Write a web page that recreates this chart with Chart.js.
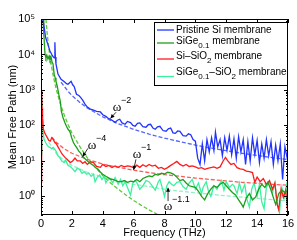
<!DOCTYPE html>
<html><head><meta charset="utf-8">
<script src="https://cdn.jsdelivr.net/npm/chart.js@4"></script>
<style>html,body{margin:0;padding:0;background:#fff}</style>
</head><body>
<canvas id="c" width="297" height="240"></canvas>
<script>
// ---- data (frequency in THz, mean free path in nm) ----
const xTicks = [0,2,4,6,8,10,12,14,16];
const yTicks = [1,10,100,1000,10000,100000];
const yTickLabels = ['10⁰','10¹','10²','10³','10⁴','10⁵'];
const seriesNames = ['Pristine Si membrane','SiGe0.1 membrane','Si–SiO2 membrane','SiGe0.1–SiO2 membrane'];

const pristineF = [0.12,0.2,0.3,0.45,0.58,0.7,0.8,0.86,0.9,0.93,0.97,1.1,1.3,1.45,1.55,1.65,1.75,1.85,1.95,2.05,2.15,2.3,2.45,2.55,2.7,2.85,3.0,3.2,3.4,3.6,3.85,4.0,4.2,4.35,4.5,4.65,4.8,4.95,5.1,5.25,5.45,5.6,5.8,5.95,6.1,6.25,6.4,6.6,6.8,6.95,7.1,7.25,7.4,7.55,7.7,7.9,8.1,8.25,8.4,8.55,8.7,8.85,9.0,9.2,9.4,9.55,9.7,9.85,10.0,10.15,10.3,10.45,10.6,10.75,10.9,11.05,11.2,11.3,11.45,11.6,11.75,11.9,12.05,12.2,12.35,12.5,12.65,12.8,12.95,13.1,13.25,13.4,13.55,13.7,13.85,14.0,14.15,14.3,14.45,14.6,14.75,14.9,15.05,15.2,15.35,15.5,15.65,15.8,15.95,16.0];
const pristineV = [100000,60000,30000,19000,12500,10000,8500,8000,22000,8500,5400,2800,2000,1800,1650,1500,1450,1600,1750,1400,1250,760,700,630,520,400,330,290,270,250,240,200,180,160,150,135,122,140,150,118,108,130,120,100,95,115,118,92,89,105,108,85,78,92,95,72,69,80,85,62,60,70,68,52,50,58,55,40,36,12,8,30,10,40,18,45,20,65,25,40,14,45,20,50,15,42,12,48,18,40,8,35,10,45,15,38,9,30,12,40,14,35,8,28,10,30,3,25,12,18];

const sigeF = [0.13,0.18,0.26,0.32,0.38,0.45,0.52,0.58,0.65,0.72,0.78,0.85,0.92,0.97,1.05,1.15,1.25,1.32,1.42,1.55,1.65,1.75,1.85,1.92,1.98,2.1,2.2,2.3,2.45,2.55,2.7,2.85,3.05,3.2,3.4,3.55,3.7,3.85,4.0,4.2,4.35,4.5,4.7,4.85,5.0,5.2,5.4,5.6,5.8,6.0,6.2,6.4,6.6,6.8,7.0,7.2,7.4,7.6,7.8,8.0,8.2,8.4,8.6,8.8,9.0,9.2,9.4,9.6,9.8,10.0,10.2,10.4,10.6,10.8,11.0,11.2,11.4,11.6,11.8,12.0,12.2,12.4,12.6,12.8,13.0,13.1,13.3,13.5,13.7,13.9,14.1,14.3,14.5,14.7,14.9,15.1,15.2,15.4,15.6,15.8,16.0];
const sigeV = [100000,40000,10000,8000,9500,7500,9000,7000,8500,6000,5400,2800,2200,1750,1300,760,480,250,170,120,95,78,70,58,46,33,28,24,19,17,13.5,11.5,9.7,8.5,7.5,6.4,5.8,4.8,4.2,3.7,3.4,3.1,3.0,2.8,2.6,2.6,2.8,2.5,2.7,2.6,3.0,2.6,3.2,3.5,3.8,3.6,4.2,4.0,4.5,4.3,4.8,4.6,4.2,3.5,2.8,3.0,2.4,2.0,1.9,1.8,1.4,1.0,0.8,1.2,1.6,2.0,1.8,2.2,2.5,2.0,1.6,1.3,1.1,0.8,0.6,0.5,0.9,1.2,0.8,0.95,1.6,2.2,1.8,2.5,1.5,0.8,0.6,1.2,1.5,1.3,1.5];

const sio2F = [0.02,0.04,0.07,0.1,0.15,0.25,0.4,0.5,0.6,0.7,0.8,0.9,1.0,1.1,1.2,1.35,1.55,1.7,1.9,2.05,2.2,2.35,2.55,2.7,2.85,3.0,3.2,3.4,3.6,3.85,4.0,4.2,4.4,4.6,4.8,5.0,5.2,5.4,5.6,5.8,6.0,6.2,6.4,6.6,6.8,7.0,7.2,7.4,7.6,7.8,8.0,8.2,8.4,8.6,8.8,9.0,9.2,9.4,9.6,9.8,10.0,10.2,10.4,10.6,10.8,11.0,11.2,11.4,11.6,11.8,11.95,12.1,12.3,12.5,12.7,12.9,13.1,13.3,13.5,13.7,13.85,14.0,14.2,14.4,14.6,14.8,15.0,15.15,15.3,15.4,15.55,15.7,15.85,16.0];
const sio2V = [2.5,1000,300,150,80,60,46,38,36,45,40,33,30,25,21,16,12.6,11,9,10,12,10,10,8.5,9.5,8,9.5,9,7,6.6,8,7,7.5,6.5,7.2,6.6,7.5,6.8,7.3,7,6.4,7.6,6.6,7.8,7,8,7.2,7.6,6.2,6.6,5.8,6.5,7.5,8.5,9.7,8,7.2,8,7,7.3,6.8,6.2,6.5,5.8,6.2,6.5,6.8,6.2,6.8,10,12.6,10,8,8.5,6.5,6,5.8,5.2,5,4.7,2.5,3.5,2.6,3.2,2.2,2.8,1.6,2.4,0.6,0.43,1.6,0.94,1.5,0.3];

const sigeSio2F = [0.03,0.05,0.08,0.12,0.15,0.2,0.3,0.4,0.5,0.6,0.7,0.8,0.9,1.0,1.1,1.2,1.35,1.5,1.6,1.75,1.9,2.05,2.2,2.35,2.5,2.65,2.8,2.95,3.1,3.25,3.4,3.5,3.65,3.8,3.95,4.1,4.2,4.35,4.5,4.65,4.8,5.0,5.15,5.3,5.45,5.6,5.8,5.95,6.1,6.2,6.4,6.6,6.8,7.0,7.2,7.4,7.6,7.7,7.85,8.0,8.15,8.3,8.45,8.6,8.8,9.0,9.2,9.4,9.6,9.8,10.0,10.2,10.4,10.5,10.7,10.85,11.0,11.2,11.4,11.5,11.7,11.85,12.0,12.2,12.4,12.5,12.7,12.85,13.0,13.2,13.35,13.5,13.65,13.8,14.0,14.15,14.3,14.45,14.6,14.8,15.0,15.15,15.3,15.45,15.6,15.75,15.9,16.0];
const sigeSio2V = [15,600,150,70,60,40,33,28,25,24,22,24,21,18,14,12.6,10,9,10.5,7.5,7,6,5,6.2,5.8,4.5,5,4.2,4.5,3.7,4.2,2.6,3.5,4,3,3.6,2.4,3.2,3,2.4,3.4,2.2,3,2.0,2.6,1.8,1.1,2.4,2.8,2.5,1.6,2.0,2.8,2.6,2.0,1.5,2.6,3.0,1.8,1.0,2.0,2.6,2.2,2.0,2.5,2.6,1.9,1.6,2.4,3.0,1.6,2.4,1.2,1.8,2.6,1.4,1.0,2.0,1.6,2.0,2.8,1.5,2.6,1.8,2.2,2.0,1.2,2.4,1.3,2.2,0.8,0.5,1.6,2.4,1.0,2.2,0.7,0.45,1.8,2.6,1.3,2.4,0.6,0.35,1.8,0.9,2.0,0.3];

// fitted power-law guide lines
const fitPristineF = [1.3,1.75,2,2.5,3,4,5,6,7,8,9,10,11,12,13,14,15,16];
const fitPristineV = [1650,920,700,450,310,175,112,78,57,44,35,28,23,19.5,16.5,14.3,12.4,11];
const fitSigeF = [0.32,0.4,0.5,0.6,0.7,0.8,1.0,1.25,1.5,1.75,2.0,2.5,3.0,3.5,4.0,4.5,5.0,5.5,6.0,6.5,7.0,7.6];
const fitSigeV = [100000,39000,16000,7700,4200,2400,1000,410,200,107,62,26,12.3,6.7,3.9,2.4,1.6,1.1,0.77,0.56,0.42,0.3];
const fitSio2F = [0.7,1,1.5,2,3,4,5,6,7,8,9,10,11,12,13,14,15,16];
const fitSio2V = [47,33,22,16.5,11,8.2,6.6,5.5,4.7,4.1,3.7,3.3,3.0,2.75,2.5,2.35,2.2,2.06];
const fitSigeSio2F = [0.5,1,1.5,2,3,4,5,6,7,8,9,10,12,14,16];
const fitSigeSio2V = [34,16,10.3,7.5,4.8,3.5,2.7,2.2,1.9,1.6,1.41,1.27,1.04,0.88,0.75];

const colors = ['#2233ff','#1e9e1e','#ff1a1a','#3cf0a0'];
const fitColors = ['#5566ff','#5cc83c','#ff5a5a','#8ff0c4'];

function pts(f,v){return f.map((x,i)=>({x:x,y:v[i]}));}

const datasets = [
  {data:pts(pristineF,pristineV),borderColor:colors[0]},
  {data:pts(sigeF,sigeV),borderColor:colors[1]},
  {data:pts(sio2F,sio2V),borderColor:colors[2]},
  {data:pts(sigeSio2F,sigeSio2V),borderColor:colors[3]},
  {data:pts(fitPristineF,fitPristineV),borderColor:fitColors[0],borderDash:[4,2]},
  {data:pts(fitSigeF,fitSigeV),borderColor:fitColors[1],borderDash:[4,2]},
  {data:pts(fitSio2F,fitSio2V),borderColor:fitColors[2],borderDash:[4,2]},
  {data:pts(fitSigeSio2F,fitSigeSio2V),borderColor:fitColors[3],borderDash:[4,2]}
].map(d=>Object.assign({showLine:true,pointRadius:0,borderWidth:1.3,fill:false,tension:0},d));

// annotation anchors in data units
const annotations = [
  {sup:'−2', f:4.92, v:327, from:[4.86,236], to:[4.50,158]},
  {sup:'−4', f:3.30, v:27.6, from:[3.04,22.7], to:[2.70,13.2]},
  {sup:'−1', f:6.22, v:15.4, from:[6.15,11.1], to:[6.00,5.6]},
  {sup:'−1.1', f:8.23, v:0.52, from:[8.23,0.74], to:[8.23,1.75]}
];

const SANS = '"Liberation Sans", Arial, Helvetica, sans-serif';

const decor = {
  id:'decor',
  afterDatasetsDraw(chart){
    const ctx = chart.ctx, a = chart.chartArea;
    const xs = chart.scales.x, ys = chart.scales.y;
    ctx.save();
    // box
    ctx.strokeStyle = '#000'; ctx.lineWidth = 1;
    ctx.strokeRect(Math.round(a.left)+0.5, Math.round(a.top)+0.5, Math.round(a.right-a.left)-1, Math.round(a.bottom-a.top)-1);
    // ticks
    ctx.beginPath();
    xTicks.forEach(t=>{
      const x = Math.round(xs.getPixelForValue(t))+0.5;
      ctx.moveTo(x,a.bottom); ctx.lineTo(x,a.bottom-4);
      ctx.moveTo(x,a.top); ctx.lineTo(x,a.top+4);
    });
    for(let d=-1; d<=5; d++){
      for(let k=1;k<=9;k++){
        const v = k*Math.pow(10,d);
        if(v<ys.min||v>ys.max) continue;
        const y = Math.round(ys.getPixelForValue(v))+0.5;
        const len = k===1?4:2;
        ctx.moveTo(a.left,y); ctx.lineTo(a.left+len,y);
        ctx.moveTo(a.right,y); ctx.lineTo(a.right-len,y);
      }
    }
    ctx.stroke();

    // annotations
    annotations.forEach(an=>{
      const x = xs.getPixelForValue(an.f), y = ys.getPixelForValue(an.v);
      ctx.fillStyle='#000';
      ctx.font = '13px "Liberation Serif", "Times New Roman", serif';
      ctx.textAlign='center'; ctx.textBaseline='middle';
      ctx.fillText('ω', x, y);
      ctx.font = '9px '+SANS;
      ctx.textAlign='left';
      ctx.fillText(an.sup, x+4, y-7);
      const x1 = xs.getPixelForValue(an.from[0]), y1 = ys.getPixelForValue(an.from[1]);
      const x2 = xs.getPixelForValue(an.to[0]), y2 = ys.getPixelForValue(an.to[1]);
      ctx.strokeStyle='#000'; ctx.lineWidth=0.8;
      ctx.beginPath(); ctx.moveTo(x1,y1); ctx.lineTo(x2,y2); ctx.stroke();
      const ang = Math.atan2(y2-y1,x2-x1), L=4, W=2;
      ctx.beginPath();
      ctx.moveTo(x2,y2);
      ctx.lineTo(x2-L*Math.cos(ang)+W*Math.sin(ang), y2-L*Math.sin(ang)-W*Math.cos(ang));
      ctx.lineTo(x2-L*Math.cos(ang)-W*Math.sin(ang), y2-L*Math.sin(ang)+W*Math.cos(ang));
      ctx.closePath(); ctx.fill();
    });

    // legend
    const lx = a.right-134, ly = a.top+3, lw = 133, lh = 63;
    ctx.fillStyle='#fff'; ctx.fillRect(lx,ly,lw,lh);
    ctx.strokeStyle='#000'; ctx.lineWidth=1;
    ctx.strokeRect(Math.round(lx)+0.5, Math.round(ly)+0.5, lw, lh);
    const rows = [
      {parts:[['Pristine Si membrane',0]], ty:8, lyy:8},
      {parts:[['SiGe',0],['0.1',1],[' membrane',0]], ty:19, lyy:21},
      {parts:[['Si–SiO',0],['2',1],[' membrane',0]], ty:34, lyy:37},
      {parts:[['SiGe',0],['0.1',1],['–SiO',0],['2',1],[' membrane',0]], ty:50, lyy:54.5}
    ];
    rows.forEach((r,i)=>{
      ctx.strokeStyle = colors[i]; ctx.lineWidth=1.3;
      ctx.beginPath(); ctx.moveTo(lx+3, ly+r.lyy); ctx.lineTo(lx+20, ly+r.lyy); ctx.stroke();
      let tx = lx+22;
      ctx.fillStyle='#000'; ctx.textAlign='left'; ctx.textBaseline='middle';
      r.parts.forEach(p=>{
        if(p[1]){ ctx.font='8px '+SANS; ctx.fillText(p[0], tx, ly+r.ty+4.5); }
        else { ctx.font='10px '+SANS; ctx.fillText(p[0], tx, ly+r.ty); }
        tx += ctx.measureText(p[0]).width;
      });
    });
    ctx.restore();
  }
};

new Chart(document.getElementById('c'), {
  type:'scatter',
  data:{datasets:datasets},
  options:{
    responsive:false, animation:false, devicePixelRatio:1,
    layout:{padding:{top:19,right:9,left:0,bottom:0}},
    plugins:{legend:{display:false}, tooltip:{enabled:false}},
    scales:{
      x:{type:'linear',min:0,max:16,
        afterBuildTicks(s){ s.ticks = xTicks.map(v=>({value:v})); },
        afterFit(s){ s.height = 25; },
        grid:{display:false,drawTicks:false}, border:{display:false},
        ticks:{color:'#000',font:{family:SANS,size:11},padding:2,maxRotation:0},
        title:{display:true,text:'Frequency (THz)',color:'#000',font:{family:SANS,size:11},padding:0}
      },
      y:{type:'logarithmic',min:0.31,max:100000,
        afterBuildTicks(s){ s.ticks = yTicks.map(v=>({value:v})); },
        afterFit(s){ s.width = 41; },
        grid:{display:false,drawTicks:false}, border:{display:false},
        ticks:{color:'#000',font:{family:SANS,size:11},padding:6,
          callback(v){ const i = yTicks.indexOf(v); return i>=0 ? yTickLabels[i] : ''; }},
        title:{display:true,text:'Mean Free Path (nm)',color:'#000',font:{family:SANS,size:11},padding:{top:6,bottom:0}}
      }
    }
  },
  plugins:[decor]
});
</script>
</body></html>
